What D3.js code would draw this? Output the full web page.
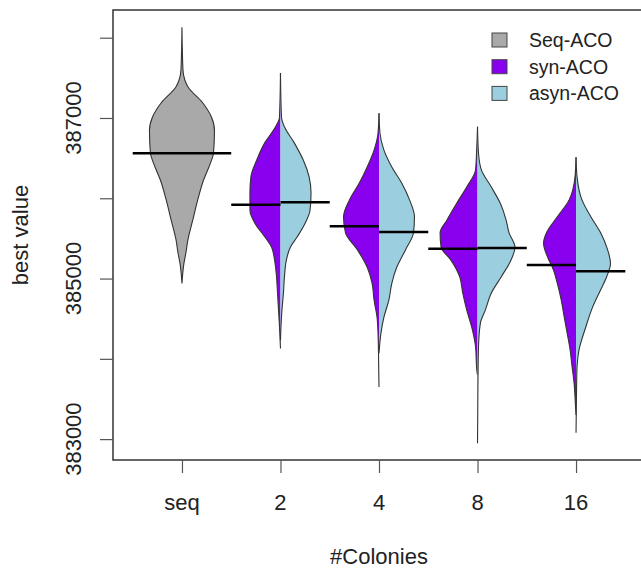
<!DOCTYPE html>
<html>
  <head>
    <meta charset="utf-8">
    <title>best value by #Colonies</title>
    <style>
      body { margin: 0; background: white; }
      text { font-family: "Liberation Sans", Arial, sans-serif; fill: #222; }
      .axis text { font-size: 22px; }
      .legend text { font-size: 19.5px; }
    </style>
  </head>
  <body>
    <script src="https://d3js.org/d3.v7.min.js"></script>
    <script>
      // categories on the x axis
      const categories = ["seq", "2", "4", "8", "16"];
      const yTicks = [383000, 384000, 385000, 386000, 387000, 388000];
      const yLabels = [383000, 385000, 387000];
      const legendKeys = ["Seq-ACO", "syn-ACO", "asyn-ACO"];
      const colors = ["#a9a9a9", "#8800ee", "#9bcfdf"];

      // density profiles: [value, half width in category units]
      const seqProfile = [
        [388130, 0], [387600, 0.01], [387470, 0.03], [387390, 0.06], [387190, 0.21],
        [387010, 0.30], [386850, 0.33], [386560, 0.32], [386440, 0.29], [386230, 0.22],
        [385980, 0.16], [385730, 0.11], [385480, 0.06], [385320, 0.04], [385190, 0.02],
        [384940, 0]
      ];
      const seqMedian = 386560;

      const synProfiles = [
        [[387560, 0], [387010, 0.01], [386890, 0.05], [386690, 0.16], [386480, 0.24],
         [386270, 0.30], [386070, 0.31], [385850, 0.31], [385690, 0.26], [385520, 0.16],
         [385390, 0.09], [385230, 0.06], [385020, 0.04], [384820, 0.03], [384610, 0.02],
         [384400, 0.01], [384130, 0]],
        [[387060, 0], [386810, 0.01], [386600, 0.05], [386390, 0.12], [386190, 0.20],
         [385980, 0.30], [385770, 0.36], [385570, 0.34], [385360, 0.22], [385140, 0.12],
         [384940, 0.07], [384730, 0.05], [384520, 0.02], [384320, 0.01], [384070, 0.005],
         [383650, 0]],
        [[386890, 0], [386560, 0.01], [386350, 0.02], [386140, 0.11], [385940, 0.21],
         [385730, 0.31], [385570, 0.38], [385390, 0.37], [385230, 0.27], [385020, 0.18],
         [384820, 0.15], [384610, 0.11], [384400, 0.06], [384150, 0.02], [383860, 0.007],
         [383800, 0]],
        [[386510, 0], [386270, 0.01], [385980, 0.07], [385770, 0.19], [385570, 0.30],
         [385440, 0.33], [385270, 0.29], [385110, 0.23], [384940, 0.19], [384730, 0.15],
         [384520, 0.12], [384320, 0.09], [384110, 0.06], [383900, 0.04], [383700, 0.02],
         [383400, 0.005], [383300, 0]]
      ];
      const synMedians = [385920, 385650, 385370, 385170];

      const asynProfiles = [
        [[387560, 0], [387010, 0.01], [386890, 0.04], [386690, 0.14], [386480, 0.23],
         [386270, 0.29], [386070, 0.31], [385850, 0.30], [385690, 0.25], [385520, 0.17],
         [385390, 0.10], [385230, 0.06], [385020, 0.04], [384820, 0.03], [384610, 0.015],
         [384400, 0.005], [384230, 0]],
        [[387060, 0], [386810, 0.01], [386600, 0.05], [386390, 0.13], [386190, 0.23],
         [385980, 0.31], [385770, 0.36], [385570, 0.35], [385360, 0.27], [385140, 0.18],
         [384940, 0.13], [384730, 0.10], [384520, 0.05], [384320, 0.02], [384070, 0]],
        [[386890, 0], [386560, 0.01], [386350, 0.04], [386140, 0.14], [385940, 0.23],
         [385730, 0.29], [385570, 0.32], [385390, 0.38], [385230, 0.34], [385020, 0.24],
         [384820, 0.14], [384610, 0.08], [384450, 0.03], [384150, 0.01], [383650, 0.004],
         [382950, 0]],
        [[386510, 0], [386270, 0.01], [385980, 0.06], [385770, 0.15], [385570, 0.25],
         [385360, 0.32], [385190, 0.35], [385020, 0.31], [384860, 0.25], [384650, 0.17],
         [384400, 0.10], [384110, 0.03], [383900, 0.01], [383610, 0.005], [383080, 0]]
      ];
      const asynMedians = [385950, 385580, 385380, 385090];

      const width = 641;
      const height = 568;
      const mLeft = 113, mTop = 10, mBottom = 460, mRight = 645;

      const svg = d3.select("body")
        .append("svg")
        .attr("width", width)
        .attr("height", height);

      const x = d3.scaleLinear().domain([0.3, 5.7]).range([mLeft, mRight]);
      const y = d3.scaleLinear().domain([382740, 388345]).range([mBottom, mTop]);

      const curve = d3.curveMonotoneY;
      const plot = svg.append("g");

      // one half (side = -1 left, +1 right) or full violin (side = 0)
      function drawViolin(pos, profile, side, color) {
        const area = d3.area()
          .curve(curve)
          .y(d => y(d[0]))
          .x0(d => side > 0 ? x(pos) : x(pos - d[1]))
          .x1(d => side < 0 ? x(pos) : x(pos + d[1]));
        plot.append("path")
          .datum(profile)
          .attr("d", area)
          .attr("fill", color)
          .attr("stroke", side === 0 ? "#333" : "none")
          .attr("stroke-width", 1.1);
        if (side !== 0) {
          const edge = d3.line()
            .curve(curve)
            .y(d => y(d[0]))
            .x(d => x(pos + side * d[1]));
          plot.append("path")
            .datum(profile)
            .attr("d", edge)
            .attr("fill", "none")
            .attr("stroke", "#333")
            .attr("stroke-width", 1.1);
        }
      }

      function drawMedian(pos, value, side) {
        const x0 = side > 0 ? pos : pos - 0.5;
        const x1 = side < 0 ? pos : pos + 0.5;
        plot.append("line")
          .attr("x1", x(x0)).attr("x2", x(x1))
          .attr("y1", y(value)).attr("y2", y(value))
          .attr("stroke", "black")
          .attr("stroke-width", 2.5);
      }

      drawViolin(1, seqProfile, 0, colors[0]);
      drawMedian(1, seqMedian, 0);
      synProfiles.forEach((p, i) => {
        drawViolin(i + 2, p, -1, colors[1]);
        drawViolin(i + 2, asynProfiles[i], 1, colors[2]);
      });
      synMedians.forEach((m, i) => drawMedian(i + 2, m, -1));
      asynMedians.forEach((m, i) => drawMedian(i + 2, m, 1));

      // box
      svg.append("rect")
        .attr("x", mLeft).attr("y", mTop)
        .attr("width", mRight - mLeft).attr("height", mBottom - mTop)
        .attr("fill", "none")
        .attr("stroke", "#333")
        .attr("stroke-width", 1.5);

      // y axis
      const yAxis = svg.append("g")
        .attr("class", "axis")
        .attr("transform", `translate(${mLeft},0)`)
        .call(d3.axisLeft(y).tickValues(yTicks).tickSize(13).tickFormat(""));
      yAxis.select(".domain").remove();
      yAxis.selectAll(".tick line").attr("stroke", "#555").attr("stroke-width", 1.2);
      yAxis.selectAll(".ylab")
        .data(yLabels)
        .enter()
        .append("text")
        .attr("class", "ylab")
        .attr("transform", d => `translate(${81 - mLeft},${y(d)}) rotate(-90)`)
        .attr("text-anchor", "middle")
        .text(d => d);

      // x axis
      const xAxis = svg.append("g")
        .attr("class", "axis")
        .attr("transform", `translate(0,${mBottom})`)
        .call(d3.axisBottom(x).tickValues(d3.range(1, categories.length + 1))
          .tickSize(13).tickFormat(""));
      xAxis.select(".domain").remove();
      xAxis.selectAll(".tick line").attr("stroke", "#555").attr("stroke-width", 1.2);
      xAxis.selectAll(".xlab")
        .data(categories)
        .enter()
        .append("text")
        .attr("class", "xlab")
        .attr("x", (d, i) => x(i + 1))
        .attr("y", 50)
        .attr("text-anchor", "middle")
        .text(d => d);

      // axis titles
      svg.append("text")
        .attr("x", (mLeft + mRight) / 2)
        .attr("y", 564)
        .attr("text-anchor", "middle")
        .style("font-size", "22px")
        .text("#Colonies");
      svg.append("text")
        .attr("transform", `translate(28,${(mTop + mBottom) / 2}) rotate(-90)`)
        .attr("text-anchor", "middle")
        .style("font-size", "22px")
        .text("best value");

      // legend
      const legend = svg.append("g").attr("class", "legend");
      legendKeys.forEach((k, i) => {
        const ly = 40 + i * 26.7;
        legend.append("rect")
          .attr("x", 492).attr("y", ly - 7)
          .attr("width", 15).attr("height", 14)
          .attr("fill", colors[i])
          .attr("stroke", "#444")
          .attr("stroke-width", 1);
        legend.append("text")
          .attr("x", 529).attr("y", ly + 7)
          .text(k);
      });
    </script>
  </body>
</html>
